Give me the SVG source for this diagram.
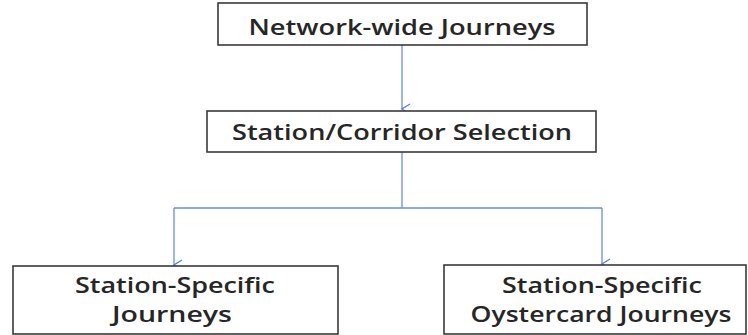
<svg xmlns="http://www.w3.org/2000/svg" width="748" height="335" viewBox="0 0 748 335">
  <defs>
    <marker id="vee" markerWidth="12" markerHeight="10" refX="6" refY="9" orient="auto-start-reverse" markerUnits="userSpaceOnUse" viewBox="0 0 12 10">
      <path d="M1,1 L6,9 L11,1" fill="none" stroke="#5b80e0" stroke-width="1.3"/>
    </marker>
    <style>
      .box { fill: #ffffff; stroke: #3a3a3a; stroke-width: 1.6; }
      .label { font-family: "Open Sans", "Liberation Sans", sans-serif; font-weight: 600; font-size: 21px; fill: #262626; text-anchor: middle; }
      .conn { fill: none; stroke: #6a8de2; stroke-width: 1.3; }
    </style>
  </defs>
  <rect width="748" height="335" fill="#ffffff"/>

  <g id="connectors">
    <path class="conn" d="M402,45 L402,109" marker-end="url(#vee)"/>
    <path class="conn" d="M402,152 L402,208 M174,208 L602,208"/>
    <path class="conn" d="M174,208 L174,265" marker-end="url(#vee)"/>
    <path class="conn" d="M602,208 L602,264" marker-end="url(#vee)"/>
  </g>

  <g id="network-wide">
    <rect class="box" x="218" y="3" width="369" height="42"/>
    <text class="label" x="402" y="35" textLength="307" lengthAdjust="spacingAndGlyphs">Network-wide Journeys</text>
  </g>

  <g id="selection">
    <rect class="box" x="207" y="111" width="389" height="41"/>
    <text class="label" x="402" y="140" textLength="340" lengthAdjust="spacingAndGlyphs">Station/Corridor Selection</text>
  </g>

  <g id="station-specific">
    <rect class="box" x="13" y="266" width="325" height="68"/>
    <text class="label" x="175" y="293" textLength="200" lengthAdjust="spacingAndGlyphs">Station-Specific</text>
    <text class="label" x="172" y="322" textLength="120" lengthAdjust="spacingAndGlyphs">Journeys</text>
  </g>

  <g id="oystercard">
    <rect class="box" x="444" y="265" width="302" height="69"/>
    <text class="label" x="602" y="293" textLength="200" lengthAdjust="spacingAndGlyphs">Station-Specific</text>
    <text class="label" x="601" y="322" textLength="261" lengthAdjust="spacingAndGlyphs">Oystercard Journeys</text>
  </g>
</svg>
